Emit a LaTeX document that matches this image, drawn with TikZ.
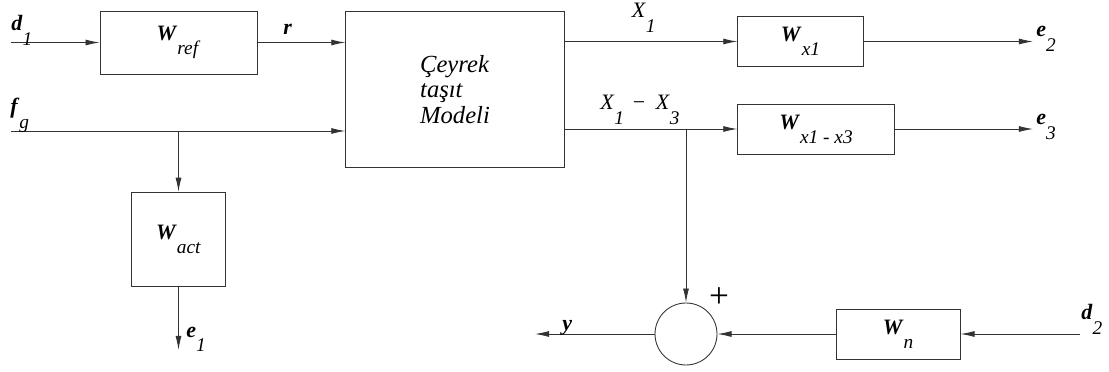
\documentclass[tikz,border=0pt]{standalone}
\usepackage{fontspec}
\setmainfont{Liberation Serif}
\usetikzlibrary{arrows.meta}
\newcommand{\blk}[2]{\textbf{\textit{#1}}\raisebox{-8pt}{\fontsize{11}{13}\selectfont\textit{#2}}}
\newcommand{\ind}[2]{\textit{#1}\raisebox{-8pt}{\fontsize{11}{13}\selectfont\textit{#2}}}
\begin{document}
\begin{tikzpicture}[x=1cm,y=1cm,
  font=\fontsize{12.5}{15}\selectfont,
  blok/.style={draw=black!80,line width=0.5pt,inner sep=0pt},
  sig/.style={draw=black!80,line width=0.5pt,-{Latex[length=8pt,width=3.4pt]}},
  etiket/.style={anchor=base west,inner sep=0pt}]
\useasboundingbox (0,0) rectangle (22.18,7.42);
% bloklar
\node[blok,minimum width=3.14cm,minimum height=1.26cm] (Wref) at (3.57,6.57) {\blk{W}{ref}};
\node[blok,minimum width=4.37cm,minimum height=3.11cm,align=left,
  font=\fontsize{14}{14.7}\selectfont\itshape] (model) at (9.10,5.63) {Çeyrek\\taşıt\\Modeli};
\node[blok,minimum width=2.51cm,minimum height=1.01cm] (Wx1) at (16.01,6.59) {\blk{W}{x1}};
\node[blok,minimum width=3.13cm,minimum height=1.00cm] (Wx13) at (16.32,4.84) {\blk{W}{x1 - x3}};
\node[blok,minimum width=1.88cm,minimum height=1.89cm] (Wact) at (3.57,2.63) {\blk{W}{act}};
\node[blok,minimum width=2.48cm,minimum height=1.00cm] (Wn) at (17.96,0.74) {\blk{W}{n}};
\node[blok,circle,minimum size=1.24cm] (toplam) at (13.72,0.74) {};
% giris ve cikis uclari
\coordinate (d1) at (0.22,6.57);
\coordinate (fg) at (0.22,4.80);
\coordinate (e1) at (3.57,0.42);
\coordinate (e2) at (20.66,6.59);
\coordinate (e3) at (20.66,4.84);
\coordinate (d2) at (21.60,0.74);
\coordinate (y) at (10.70,0.74);
% baglantilar
\draw[sig] (d1) -- (Wref.west);
\draw[sig] (Wref.east) -- (Wref.east -| model.west);
\draw[sig] (fg) -- (fg -| model.west);
\draw[sig] (fg -| Wact.north) -- (Wact.north);
\draw[sig] (Wact.south) -- (e1);
\draw[sig] (model.east |- Wx1.west) -- (Wx1.west);
\draw[sig] (model.east |- Wx13.west) -- (Wx13.west);
\draw[sig] (Wx1.east) -- (e2);
\draw[sig] (Wx13.east) -- (e3);
\draw[sig] (Wx13.west -| toplam.north) -- (toplam.north);
\draw[sig] (d2) -- (Wn.east);
\draw[sig] (Wn.west) -- (toplam.east);
\draw[sig] (toplam.west) -- (y);
% etiketler
\node[etiket] (ld1) at (0.22,6.80) {\blk{d}{1}};
\node[etiket] (lr) at (5.66,6.72) {\textbf{\textit{r}}};
\node[etiket] (lfg) at (0.20,5.14) {\blk{f}{g}};
\node[etiket] (lx1) at (12.63,7.06) {\ind{X}{1}};
\node[etiket] (lx13) at (12.00,5.22) {\ind{X}{1}\hspace{5pt}−\hspace{6pt}\ind{X}{3}};
\node[etiket] (le1) at (3.72,0.68) {\blk{e}{1}};
\node[etiket] (le2) at (20.72,6.68) {\blk{e}{2}};
\node[etiket] (le3) at (20.72,4.92) {\blk{e}{3}};
\node[etiket] (ly) at (11.24,0.80) {\textbf{\textit{y}}};
\node[etiket] (ld2) at (21.62,1.02) {\blk{d}{2}};
\node[font=\fontsize{20}{20}\selectfont,inner sep=0pt] (arti) at (14.38,1.46) {+};
\end{tikzpicture}
\end{document}
